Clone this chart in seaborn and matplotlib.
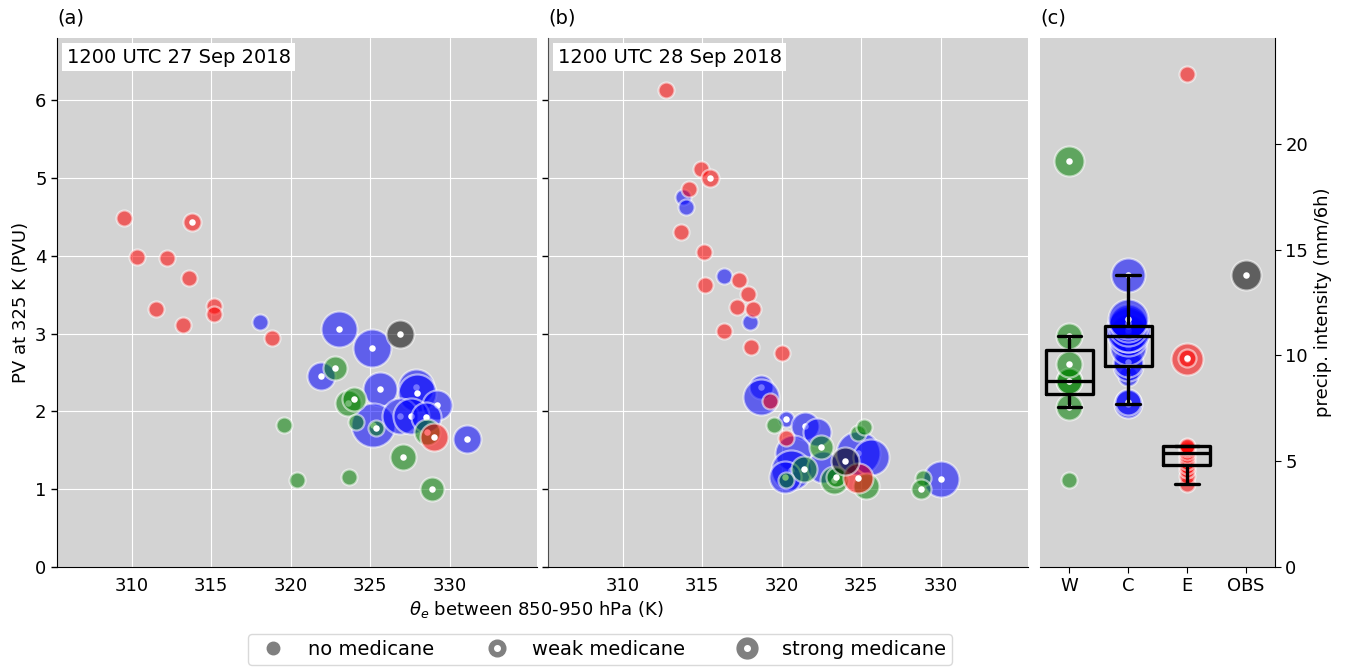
import matplotlib
matplotlib.use("Agg")
import matplotlib.pyplot as plt
import numpy as np
import seaborn as sns
from matplotlib.lines import Line2D
from matplotlib.legend_handler import HandlerTuple

# ---- panel (a): 1200 UTC 27 Sep 2018 ----
# theta_e (K), PV (PVU), cluster, marker radius (px), medicane flag
theta_a = [309.5, 313.8, 310.3, 312.2, 313.6, 311.5, 315.2, 315.2, 313.2, 318.8, 329.0,
           322.8, 323.6, 324.0, 324.1, 325.35, 328.6, 327.06, 323.7, 320.4, 328.9, 319.6,
           323.04, 325.14, 321.9, 325.6, 327.9, 327.97, 329.2, 325.2, 326.9, 327.6, 328.5, 331.1, 318.1,
           326.9]
pv_a = [4.49, 4.43, 3.98, 3.97, 3.71, 3.32, 3.35, 3.25, 3.11, 2.94, 1.67,
        2.56, 2.11, 2.16, 1.86, 1.79, 1.74, 1.42, 1.16, 1.12, 1.00, 1.82,
        3.06, 2.81, 2.46, 2.29, 2.32, 2.24, 2.08, 1.83, 1.94, 1.94, 1.93, 1.64, 3.15,
        2.99]
group_a = ["E"] * 11 + ["W"] * 11 + ["C"] * 13 + ["OBS"]
rad_a = [8, 9, 8, 8, 8, 8, 8, 8, 8, 8, 14,
         12, 13, 12, 8, 8, 13, 13, 8, 8, 12, 8,
         18, 19, 14, 17, 18, 19, 15, 22, 18, 18, 15, 14, 8,
         14]
med_a = [0, 1, 0, 0, 0, 0, 0, 0, 0, 0, 1,
         1, 1, 1, 0, 1, 1, 1, 0, 0, 1, 0,
         1, 1, 1, 1, 1, 1, 1, 1, 1, 1, 1, 1, 0,
         1]

# ---- panel (b): 1200 UTC 28 Sep 2018 ----
theta_b = [312.7, 314.9, 315.5, 314.2, 313.7, 315.1, 317.3, 315.2, 317.9, 317.2, 318.2, 316.4,
           318.1, 320.0, 319.3, 320.3, 324.8,
           319.5, 322.5, 321.4, 320.3, 324.8, 325.2, 323.3, 323.4, 325.3, 328.9, 328.8,
           313.8, 314.0, 316.35, 318.0, 318.7, 318.7, 320.3, 321.5, 322.2, 320.7, 320.6, 320.2,
           322.6, 324.8, 325.6, 330.0,
           324.0]
pv_b = [6.13, 5.12, 5.00, 4.86, 4.31, 4.05, 3.69, 3.62, 3.51, 3.34, 3.32, 3.03,
        2.83, 2.75, 2.14, 1.66, 1.14,
        1.83, 1.54, 1.26, 1.12, 1.72, 1.80, 1.12, 1.16, 1.04, 1.15, 1.00,
        4.75, 4.63, 3.74, 3.15, 2.32, 2.19, 1.90, 1.81, 1.74, 1.47, 1.25, 1.16,
        1.28, 1.46, 1.42, 1.13,
        1.36]
group_b = ["E"] * 17 + ["W"] * 11 + ["C"] * 16 + ["OBS"]
rad_b = [8, 8, 9, 8, 8, 8, 8, 8, 8, 8, 8, 8,
         8, 8, 8, 8, 15,
         8, 12, 13, 8, 8, 8, 14, 10, 13, 8, 10,
         8, 8, 8, 8, 12, 18, 8, 14, 14, 18, 20, 16,
         16, 22, 18, 18,
         14]
med_b = [0, 0, 1, 0, 0, 0, 0, 0, 0, 0, 0, 0,
         0, 0, 0, 0, 1,
         0, 1, 1, 0, 0, 0, 1, 1, 0, 0, 1,
         0, 0, 0, 0, 1, 0, 1, 1, 0, 0, 1, 1,
         0, 1, 0, 1,
         1]

# ---- panel (c): precipitation intensity (mm/6h) ----
precip_w = [4.12, 7.58, 8.78, 8.81, 9.6, 10.93, 19.2]
rad_w = [8, 13, 13, 13, 13, 13, 15]
med_w = [0, 1, 1, 1, 1, 1, 1]
precip_c = [7.71, 7.8, 9.05, 9.48, 9.7, 10.4, 10.93, 11.05, 11.2, 11.4, 11.55, 11.7, 13.78]
rad_c = [14, 13, 10, 15, 15, 18, 20, 19, 22, 20, 19, 20, 17]
med_c = [1] * 13
precip_e = [3.93, 4.3, 4.6, 4.78, 4.95, 5.15, 5.3, 5.45, 5.6, 5.68, 5.74, 9.84, 9.9, 23.3]
rad_e = [8, 8, 8, 8, 8, 8, 8, 8, 8, 8, 8, 16, 9, 8]
med_e = [0] * 11 + [1, 1, 0]
precip_obs = [13.78]
rad_obs = [15]
med_obs = [1]

categories = ["W", "C", "E", "OBS"]
colors = {"W": "green", "C": "blue", "E": "red", "OBS": "black"}
draw_order = ["C", "W", "E", "OBS"]


def px_to_s(r):
    # marker radius in pixels -> scatter size in points^2 (dpi 100)
    return (2 * r * 0.72) ** 2


def draw_member(ax, x, y, col, r, med):
    ax.scatter([x], [y], s=px_to_s(r), color=col, alpha=0.55,
               edgecolor="white", linewidth=1.6, zorder=3)
    if med:
        ax.scatter([x], [y], s=22, color="white", linewidth=0, zorder=3)


sns.set_style("darkgrid", {"axes.facecolor": "lightgray", "axes.edgecolor": "black",
                           "grid.color": "white", "text.color": "black",
                           "axes.labelcolor": "black", "xtick.color": "black",
                           "ytick.color": "black"})
plt.rcParams["font.family"] = ["DejaVu Sans"]
plt.rcParams["font.size"] = 13

fig = plt.figure(figsize=(13.45, 6.68), dpi=100)
ax_a = fig.add_axes([0.0424, 0.1512, 0.3569, 0.7919])
ax_b = fig.add_axes([0.4074, 0.1512, 0.3569, 0.7919])
ax_c = fig.add_axes([0.7732, 0.1512, 0.1747, 0.7919])

for ax, th, pv, grp, rad, med, title in [
    (ax_a, theta_a, pv_a, group_a, rad_a, med_a, "1200 UTC 27 Sep 2018"),
    (ax_b, theta_b, pv_b, group_b, rad_b, med_b, "1200 UTC 28 Sep 2018"),
]:
    for g in draw_order:
        for i in range(len(th)):
            if grp[i] == g:
                draw_member(ax, th[i], pv[i], colors[g], rad[i], med[i])
    ax.set_xlim(305.3, 335.5)
    ax.set_ylim(0, 6.8)
    ax.set_xticks([310, 315, 320, 325, 330])
    ax.set_yticks(range(7))
    ax.tick_params(axis="y", left=True, length=4, width=1, labelsize=13)
    ax.tick_params(axis="x", bottom=False, labelsize=13)
    sns.despine(ax=ax)
    ax.text(0.02, 0.982, title, transform=ax.transAxes, ha="left", va="top", fontsize=14,
            bbox=dict(facecolor="white", edgecolor="none", pad=3.5), zorder=5)

ax_b.set_yticklabels([])
ax_b.spines["left"].set_color("0.3")
ax_a.set_ylabel("PV at 325 K (PVU)", fontsize=13)

# panel (c)
for g, vals, rads, meds in [("C", precip_c, rad_c, med_c), ("W", precip_w, rad_w, med_w),
                            ("E", precip_e, rad_e, med_e), ("OBS", precip_obs, rad_obs, med_obs)]:
    xpos = categories.index(g)
    for v, r, m in zip(vals, rads, meds):
        draw_member(ax_c, xpos, v, colors[g], r, m)

box_x = ["W"] * len(precip_w) + ["C"] * len(precip_c) + ["E"] * len(precip_e)
box_y = precip_w + precip_c + precip_e
sns.boxplot(x=box_x, y=box_y, order=categories, fill=False, color="black", linecolor="black",
            linewidth=2.4, width=0.8, showfliers=False, ax=ax_c, zorder=4)

ax_c.grid(False)
ax_c.set_xlim(-0.5, 3.5)
ax_c.set_ylim(0, 25)
ax_c.set_xticks(range(4))
ax_c.set_xticklabels(categories)
ax_c.set_yticks([0, 5, 10, 15, 20])
ax_c.yaxis.tick_right()
ax_c.yaxis.set_label_position("right")
ax_c.tick_params(axis="y", right=True, left=False, length=4, labelsize=13)
ax_c.tick_params(axis="x", bottom=True, length=4, labelsize=13)
ax_c.spines["left"].set_visible(False)
ax_c.spines["top"].set_visible(False)
ax_c.spines["right"].set_visible(True)
ax_c.set_ylabel("precip. intensity (mm/6h)", fontsize=13)

for ax, lab in [(ax_a, "(a)"), (ax_b, "(b)"), (ax_c, "(c)")]:
    ax.text(0.0, 1.02, lab, transform=ax.transAxes, ha="left", va="bottom", fontsize=14)

fig.text(0.399, 0.087, r"$\theta_e$ between 850-950 hPa (K)", ha="center", va="center",
         fontsize=13)

h_no = Line2D([], [], marker="o", linestyle="none", color="gray", markersize=9)
h_weak = (Line2D([], [], marker="o", linestyle="none", color="gray", markersize=12),
          Line2D([], [], marker="o", linestyle="none", color="white", markersize=4))
h_strong = (Line2D([], [], marker="o", linestyle="none", color="gray", markersize=15),
            Line2D([], [], marker="o", linestyle="none", color="white", markersize=4))
leg = fig.legend([h_no, h_weak, h_strong], ["no medicane", "weak medicane", "strong medicane"],
                 handler_map={tuple: HandlerTuple(ndivide=1)}, loc="center",
                 bbox_to_anchor=(0.446, 0.028), ncol=3, fontsize=14, frameon=True,
                 columnspacing=2.2, borderpad=0.3, facecolor="white", edgecolor="0.85",
                 framealpha=1)

fig.savefig("out.png", dpi=100)
